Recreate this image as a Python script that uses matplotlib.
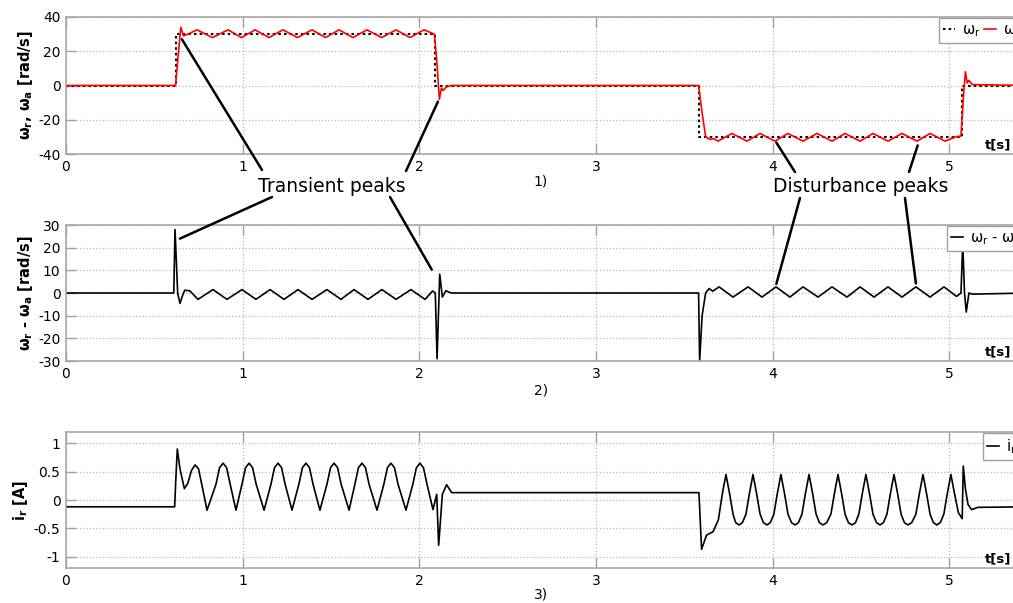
import matplotlib
matplotlib.use('Agg')
import matplotlib.pyplot as plt
from matplotlib.patches import ConnectionPatch

plt.rcParams['font.family'] = ['DejaVu Sans']
plt.rcParams['mathtext.default'] = 'regular'
plt.rcParams['axes.unicode_minus'] = False

# ---- panel 1: reference and actual speed [rad/s]
wr_t = [0.0, 0.62, 0.62, 2.09, 2.09, 3.58, 3.58, 5.07, 5.07, 5.45]
wr_v = [0, 0, 30, 30, 0, 0, -30, -30, 0, 0]

wa_t = [0.000, 0.620, 0.635, 0.650, 0.665, 0.690,
        0.741, 0.829, 0.917, 0.994, 1.070, 1.149, 1.228, 1.310, 1.392,
        1.469, 1.545, 1.624, 1.703, 1.786, 1.868, 1.947, 2.026,
        2.085, 2.100, 2.113, 2.125, 2.135, 2.150, 2.180,
        3.580, 3.600, 3.620, 3.645, 3.665,
        3.690, 3.769, 3.854, 3.928, 4.012, 4.086, 4.171, 4.250, 4.335,
        4.409, 4.494, 4.567, 4.652, 4.731, 4.816, 4.890, 4.975,
        5.035, 5.065, 5.080, 5.090, 5.100, 5.110, 5.130, 5.450]
wa_v = [0, 0, 18, 34, 29, 30,
        32.5, 28, 32.5, 28, 32.5, 28, 32.5, 28, 32.5,
        28, 32.5, 28, 32.5, 28, 32.5, 28, 32.5,
        30, 12, -8, -1.5, -3, -1, 0,
        0, -16, -30, -31.5, -31,
        -32.5, -28, -32.5, -28, -32.5, -28, -32.5, -28, -32.5,
        -28, -32.5, -28, -32.5, -28, -32.5, -28, -32.5,
        -30, -29.5, -5, 8, 1.5, 3, 0.5, 0]

# ---- panel 2: speed error [rad/s]
df_t = [0.000, 0.610, 0.617, 0.632, 0.645, 0.660, 0.672, 0.700,
        0.747, 0.832, 0.911, 0.996, 1.075, 1.155, 1.234, 1.313, 1.392,
        1.477, 1.556, 1.630, 1.709, 1.788, 1.868, 1.952, 2.032,
        2.075, 2.090, 2.100, 2.115, 2.130, 2.150, 2.180,
        3.580, 3.586, 3.600, 3.620, 3.640, 3.660,
        3.696, 3.775, 3.860, 3.939, 4.018, 4.097, 4.171, 4.256, 4.335,
        4.420, 4.494, 4.573, 4.652, 4.731, 4.810, 4.890, 4.969,
        5.040, 5.065, 5.075, 5.085, 5.095, 5.110, 5.130, 5.450]
df_v = [0, 0, 28, 0, -4.6, -1, 1.2, 1.0,
        -2.8, 1.5, -2.8, 1.5, -2.8, 1.5, -2.8, 1.5, -2.8,
        1.5, -2.8, 1.5, -2.8, 1.5, -2.8, 1.5, -2.8,
        0.9, 0, -29, 8.3, -1.8, 1, 0,
        0, -30, -10, 0, 2, 0.8,
        2.7, -1.8, 2.7, -1.8, 2.7, -1.8, 2.7, -1.8, 2.7,
        -1.8, 2.7, -1.8, 2.7, -1.8, 2.7, -1.8, 2.7,
        -1.5, 0, 22, 0, -8.4, 0, -0.5, 0]

# ---- panel 3: current [A]
ir_t = [0.000, 0.615, 0.622, 0.630, 0.645, 0.670, 0.690, 0.710, 0.730, 0.750, 0.770, 0.798,
        0.849, 0.869, 0.889, 0.909, 0.929, 0.962,
        0.996, 1.016, 1.036, 1.056, 1.076, 1.121,
        1.160, 1.180, 1.200, 1.220, 1.240, 1.279,
        1.318, 1.338, 1.358, 1.378, 1.398, 1.437,
        1.477, 1.497, 1.517, 1.537, 1.557, 1.602,
        1.635, 1.655, 1.675, 1.695, 1.715, 1.760,
        1.799, 1.819, 1.839, 1.859, 1.879, 1.924,
        1.963, 1.983, 2.003, 2.023, 2.043, 2.077,
        2.098, 2.109, 2.130, 2.154, 2.183, 3.582,
        3.597, 3.625, 3.662, 3.692,
        3.715, 3.735, 3.755, 3.775, 3.790, 3.809, 3.828, 3.848,
        3.868, 3.888, 3.908, 3.928, 3.947, 3.967, 3.986, 4.006,
        4.026, 4.046, 4.066, 4.086, 4.106, 4.126, 4.145, 4.165,
        4.185, 4.205, 4.225, 4.245, 4.264, 4.284, 4.305, 4.329,
        4.349, 4.369, 4.389, 4.409, 4.428, 4.448, 4.468, 4.487,
        4.507, 4.527, 4.547, 4.567, 4.587, 4.607, 4.626, 4.646,
        4.666, 4.686, 4.706, 4.726, 4.745, 4.765, 4.786, 4.810,
        4.830, 4.850, 4.870, 4.890, 4.909, 4.929, 4.948, 4.968,
        4.988, 5.008, 5.028, 5.050, 5.072, 5.078, 5.090, 5.105, 5.125, 5.160, 5.450]
ir_v = [-0.12, -0.12, 0.40, 0.90, 0.55, 0.20, 0.30, 0.52, 0.62, 0.55, 0.25, -0.18,
        0.28, 0.57, 0.65, 0.57, 0.28, -0.18,
        0.28, 0.57, 0.65, 0.57, 0.28, -0.18,
        0.28, 0.57, 0.65, 0.57, 0.28, -0.18,
        0.28, 0.57, 0.65, 0.57, 0.28, -0.18,
        0.28, 0.57, 0.65, 0.57, 0.28, -0.18,
        0.28, 0.57, 0.65, 0.57, 0.28, -0.18,
        0.28, 0.57, 0.65, 0.57, 0.28, -0.18,
        0.28, 0.57, 0.65, 0.57, 0.28, -0.17,
        0.10, -0.80, 0.10, 0.27, 0.13, 0.13,
        -0.87, -0.62, -0.56, -0.35,
        0.12, 0.45, 0.12, -0.25, -0.40, -0.44, -0.40, -0.25,
        0.12, 0.45, 0.12, -0.25, -0.40, -0.44, -0.40, -0.25,
        0.12, 0.45, 0.12, -0.25, -0.40, -0.44, -0.40, -0.25,
        0.12, 0.45, 0.12, -0.25, -0.40, -0.44, -0.40, -0.25,
        0.12, 0.45, 0.12, -0.25, -0.40, -0.44, -0.40, -0.25,
        0.12, 0.45, 0.12, -0.25, -0.40, -0.44, -0.40, -0.25,
        0.12, 0.45, 0.12, -0.25, -0.40, -0.44, -0.40, -0.25,
        0.12, 0.45, 0.12, -0.25, -0.40, -0.44, -0.40, -0.25,
        0.12, 0.45, 0.12, -0.22, -0.33, 0.60, 0.20, -0.08, -0.17, -0.13, -0.12]

x_ticks = [0, 1, 2, 3, 4, 5]
y1_ticks = [-40, -20, 0, 20, 40]
y2_ticks = [-30, -20, -10, 0, 10, 20, 30]
y3_ticks = [-1, -0.5, 0, 0.5, 1]
y3_labels = ['-1', '-0.5', '0', '0.5', '1']

# annotation targets: (panel, t, value) and label anchor in image pixels
transient_pts = [(0, 0.656, 27), (0, 2.105, -9.4), (1, 0.645, 24), (1, 2.07, 10.3)]
transient_from = [(262, 170), (406, 171), (272, 197), (390, 197)]
disturb_pts = [(0, 4.02, -33.3), (0, 4.82, -35), (1, 4.02, 4), (1, 4.81, 4.2)]
disturb_from = [(795, 172), (909, 172), (800, 198), (905, 198)]

W, H = 1013, 603
fig = plt.figure(figsize=(W / 100, H / 100), dpi=100)


def make_axes(top, bottom, left=66, right=1029):
    ax = fig.add_axes([left / W, 1 - bottom / H, (right - left) / W, (bottom - top) / H])
    # axis unit label, bottom right corner of each panel
    fig.text(1011 / W, 1 - (bottom - 3) / H, 't[s]', fontsize=9.5,
             fontweight='bold', ha='right', va='bottom')
    return ax


def style(ax, ylim, yticks):
    ax.set_xlim(0, 5.45)
    ax.set_ylim(*ylim)
    ax.set_xticks(x_ticks)
    ax.set_yticks(yticks)
    ax.grid(True, linestyle=':', color='#b8b8b8', linewidth=0.9)
    for s in ax.spines.values():
        s.set_color('#a8a8a8')
        s.set_linewidth(1.2)
    ax.tick_params(direction='in', length=7, width=1, color='#a0a0a0',
                   top=True, labelsize=10, pad=4)


ax1 = make_axes(17, 154)
ax1.plot(wr_t, wr_v, color='k', linestyle=(0, (1.2, 1.5)), lw=1.5, label=r'$\omega_r$')
ax1.plot(wa_t, wa_v, color='#ff0000', lw=1.2, label=r'$\omega_a$')
style(ax1, (-40, 40), y1_ticks)
ax1.set_ylabel(r'$\omega_r$, $\omega_a$ [rad/s]', fontweight='bold', fontsize=10.5, labelpad=2)

ax2 = make_axes(225, 361)
ax2.plot(df_t, df_v, color='k', lw=1.2, label=r'$\omega_r$ - $\omega_a$')
style(ax2, (-30, 30), y2_ticks)
ax2.set_ylabel(r'$\omega_r$ - $\omega_a$ [rad/s]', fontweight='bold', fontsize=10.5, labelpad=2)

ax3 = make_axes(432, 568)
ax3.plot(ir_t, ir_v, color='k', lw=1.2, label=r'$i_r$')
style(ax3, (-1.2, 1.2), y3_ticks)
ax3.set_yticklabels(y3_labels)
ax3.set_ylabel(r'$i_r$ [A]', fontweight='bold', fontsize=10.5, labelpad=3)

# legends anchored by their upper-left corner (image pixels), as in the source figure
for ax, nc, (lx, ly) in ((ax1, 2, (939, 18)), (ax2, 1, (947, 226)), (ax3, 1, (983, 433))):
    leg = ax.legend(loc='upper left', bbox_to_anchor=(lx / W, 1 - ly / H),
                    bbox_transform=fig.transFigure, borderaxespad=0,
                    ncol=nc, fontsize=10.5, fancybox=False,
                    framealpha=1, edgecolor='#a0a0a0',
                    handlelength=0.8, columnspacing=0.2, handletextpad=0.5,
                    borderpad=0.3)
    leg.set_zorder(10)

for y, lab in ((181, '1)'), (390, '2)'), (595, '3)')):
    fig.text(541 / W, 1 - y / H, lab, ha='center', va='center', fontsize=10)

fig.text(332 / W, 1 - 187 / H, 'Transient peaks', ha='center', va='center', fontsize=13.5)
fig.text(861 / W, 1 - 187 / H, 'Disturbance peaks', ha='center', va='center', fontsize=13.5)

axes = [ax1, ax2, ax3]
for pts, starts in ((transient_pts, transient_from), (disturb_pts, disturb_from)):
    for (k, t, v), (px, py) in zip(pts, starts):
        con = ConnectionPatch(xyA=(px, H - py), coordsA='figure pixels',
                              xyB=(t, v), coordsB=axes[k].transData,
                              color='k', lw=1.8)
        fig.add_artist(con)

fig.savefig('out.png', dpi=100)
